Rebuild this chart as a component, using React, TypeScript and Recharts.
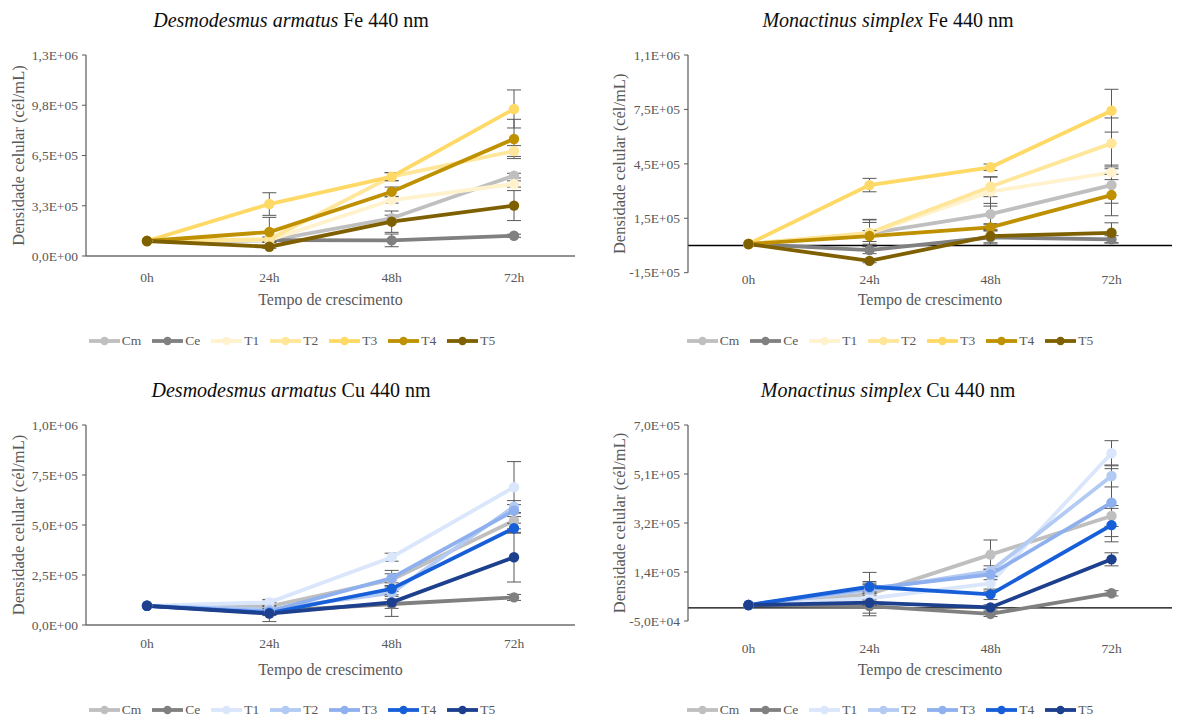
import React from 'react';
import { LineChart, Line, XAxis, YAxis, ErrorBar, ReferenceLine } from 'recharts';

const FONT = "'Liberation Serif', 'Times New Roman', serif";

const categories = ['0h', '24h', '48h', '72h'];
const seriesNames = ['Cm', 'Ce', 'T1', 'T2', 'T3', 'T4', 'T5'];
const feColors = ['#BFBFBF', '#808080', '#FFF2CC', '#FFE699', '#FFD966', '#BF9000', '#7F6000'];
const cuColors = ['#BFBFBF', '#808080', '#D9E6FB', '#B3CAF3', '#8FB0EE', '#175FD8', '#1C3F8E'];

// Desmodesmus armatus Fe 440 nm
const daFeCm = [97000, 100000, 244000, 520000];
const daFeCe = [97000, 103000, 101000, 131000];
const daFeT1 = [97000, 103000, 362000, 466000];
const daFeT2 = [97000, 108000, 513000, 679000];
const daFeT3 = [97000, 336000, 513000, 951000];
const daFeT4 = [97000, 155000, 416000, 757000];
const daFeT5 = [97000, 60000, 222000, 326000];
const daFeCmErr = [null, 10000, 20000, 15000];
const daFeCeErr = [null, 15000, 41000, 10000];
const daFeT1Err = [null, 10000, 20000, 20000];
const daFeT2Err = [null, 15000, 26000, 35000];
const daFeT3Err = [null, 73000, 26000, 123000];
const daFeT4Err = [null, 95000, 30000, 127000];
const daFeT5Err = [null, 10000, 69000, 97000];
const daFeTicks = [0, 325000, 650000, 975000, 1300000];
const daFeTickLabels = ['0,0E+00', '3,3E+05', '6,5E+05', '9,8E+05', '1,3E+06'];

// Monactinus simplex Fe 440 nm
const msFeCm = [8000, 67000, 173000, 333000];
const msFeCe = [8000, -25000, 45000, 34000];
const msFeT1 = [8000, 67000, 297000, 403000];
const msFeT2 = [8000, 70000, 324000, 563000];
const msFeT3 = [8000, 333000, 431000, 743000];
const msFeT4 = [8000, 52000, 100000, 278000];
const msFeT5 = [8000, -85000, 52000, 70000];
const msFeCmErr = [null, 74000, 59000, 100000];
const msFeCeErr = [null, 20000, 37000, 20000];
const msFeT1Err = [null, 60000, 80000, 40000];
const msFeT2Err = [null, 74000, 55000, 140000];
const msFeT3Err = [null, 37000, 18000, 118000];
const msFeT4Err = [null, 30000, 20000, 114000];
const msFeT5Err = [null, 10000, 37000, 55000];
const msFeTicks = [-150000, 150000, 450000, 750000, 1050000];
const msFeTickLabels = ['-1,5E+05', '1,5E+05', '4,5E+05', '7,5E+05', '1,1E+06'];

// Desmodesmus armatus Cu 440 nm
const daCuCm = [96000, 93000, 226000, 521000];
const daCuCe = [96000, 68000, 105000, 138000];
const daCuT1 = [96000, 113000, 339000, 689000];
const daCuT2 = [96000, 77000, 160000, 592000];
const daCuT3 = [96000, 68000, 235000, 572000];
const daCuT4 = [96000, 60000, 181000, 484000];
const daCuT5 = [96000, 57000, 113000, 339000];
const daCuCmErr = [null, 20000, 30000, 40000];
const daCuCeErr = [null, 51000, 62000, 15000];
const daCuT1Err = [null, 15000, 20000, 128000];
const daCuT2Err = [null, 15000, 30000, 30000];
const daCuT3Err = [null, 15000, 38000, 30000];
const daCuT4Err = [null, 10000, 30000, 25000];
const daCuT5Err = [null, 10000, 30000, 124000];
const daCuTicks = [0, 250000, 500000, 750000, 1000000];
const daCuTickLabels = ['0,0E+00', '2,5E+05', '5,0E+05', '7,5E+05', '1,0E+06'];

// Monactinus simplex Cu 440 nm
const msCuCm = [11000, 53000, 204000, 352000];
const msCuCe = [11000, 7000, -23000, 56000];
const msCuT1 = [11000, 37000, 94000, 592000];
const msCuT2 = [11000, 69000, 141000, 505000];
const msCuT3 = [11000, 75000, 128000, 403000];
const msCuT4 = [11000, 81000, 52000, 317000];
const msCuT5 = [11000, 20000, 2000, 186000];
const msCuCmErr = [null, 83000, 56000, 40000];
const msCuCeErr = [null, 27000, 10000, 10000];
const msCuT1Err = [null, 20000, 30000, 48000];
const msCuT2Err = [null, 20000, 20000, 42000];
const msCuT3Err = [null, 20000, 20000, 130000];
const msCuT4Err = [null, 20000, 20000, 64000];
const msCuT5Err = [null, 10000, 10000, 25000];
const msCuTicks = [-50000, 137500, 325000, 512500, 700000];
const msCuTickLabels = ['-5,0E+04', '1,4E+05', '3,2E+05', '5,1E+05', '7,0E+05'];

type Series = { name: string; color: string; values: number[]; errors: (number | null)[] };

function makeSeries(colors: string[], values: number[][], errors: (number | null)[][]): Series[] {
  return seriesNames.map((name, i) => ({ name, color: colors[i], values: values[i], errors: errors[i] }));
}

const panels = [
  {
    species: 'Desmodesmus armatus', rest: ' Fe 440 nm',
    series: makeSeries(feColors,
      [daFeCm, daFeCe, daFeT1, daFeT2, daFeT3, daFeT4, daFeT5],
      [daFeCmErr, daFeCeErr, daFeT1Err, daFeT2Err, daFeT3Err, daFeT4Err, daFeT5Err]),
    ticks: daFeTicks, labels: daFeTickLabels,
    left: 0, top: 0, width: 588, height: 310, mr: 13, mb: 4, yw: 86, xh: 50, pad: 61,
    zero: false, xtm: 16, xlo: 1, ylo: 18, titleX: 291, titleY: 20, legendX: 292, legendY: 341,
  },
  {
    species: 'Monactinus simplex', rest: ' Fe 440 nm',
    series: makeSeries(feColors,
      [msFeCm, msFeCe, msFeT1, msFeT2, msFeT3, msFeT4, msFeT5],
      [msFeCmErr, msFeCeErr, msFeT1Err, msFeT2Err, msFeT3Err, msFeT4Err, msFeT5Err]),
    ticks: msFeTicks, labels: msFeTickLabels,
    left: 590, top: 0, width: 587, height: 310, mr: 5, mb: 3.3, yw: 98, xh: 34, pad: 60.5,
    zero: true, xtm: 1.5, xlo: 1.7, ylo: 29, titleX: 888, titleY: 20, legendX: 890, legendY: 341,
  },
  {
    species: 'Desmodesmus armatus', rest: ' Cu 440 nm',
    series: makeSeries(cuColors,
      [daCuCm, daCuCe, daCuT1, daCuT2, daCuT3, daCuT4, daCuT5],
      [daCuCmErr, daCuCeErr, daCuT1Err, daCuT2Err, daCuT3Err, daCuT4Err, daCuT5Err]),
    ticks: daCuTicks, labels: daCuTickLabels,
    left: 0, top: 370, width: 588, height: 310, mr: 13, mb: 3, yw: 86, xh: 52, pad: 61,
    zero: false, xtm: 13, xlo: 2, ylo: 18, titleX: 291, titleY: 390, legendX: 292, legendY: 710,
  },
  {
    species: 'Monactinus simplex', rest: ' Cu 440 nm',
    series: makeSeries(cuColors,
      [msCuCm, msCuCe, msCuT1, msCuT2, msCuT3, msCuT4, msCuT5],
      [msCuCmErr, msCuCeErr, msCuT1Err, msCuT2Err, msCuT3Err, msCuT4Err, msCuT5Err]),
    ticks: msCuTicks, labels: msCuTickLabels,
    left: 590, top: 370, width: 587, height: 310, mr: 5, mb: 5, yw: 98, xh: 54, pad: 60.5,
    zero: true, xtm: 22.4, xlo: 0, ylo: 29, titleX: 888, titleY: 390, legendX: 890, legendY: 710,
  },
];

function Panel({ p }: { p: any }) {
  const data = categories.map((t, i) => {
    const row: any = { t };
    p.series.forEach((s: Series) => {
      row[s.name] = s.values[i];
      row[s.name + '_err'] = s.errors[i];
    });
    return row;
  });
  const fmt = (v: number) => {
    const idx = p.ticks.indexOf(v);
    return idx >= 0 ? p.labels[idx] : String(v);
  };
  return (
    <>
      <div
        style={{
          position: 'absolute', left: p.titleX - 250, width: 500, top: p.titleY - 12, height: 24,
          lineHeight: '24px', textAlign: 'center', fontFamily: FONT, fontSize: 20, color: '#0d0d0d',
          whiteSpace: 'nowrap',
        }}
      >
        <i>{p.species}</i>{p.rest}
      </div>
      <div style={{ position: 'absolute', left: p.left, top: p.top, fontFamily: FONT }}>
        <LineChart
          width={p.width}
          height={p.height}
          data={data}
          style={{ fontFamily: FONT }}
          margin={{ top: 55, right: p.mr, bottom: p.mb, left: 0 }}
        >
          <XAxis
            dataKey="t"
            height={p.xh}
            padding={{ left: p.pad, right: p.pad }}
            axisLine={p.zero ? false : { stroke: '#262626', strokeWidth: 1.2 }}
            tickLine={false}
            tickSize={0}
            tickMargin={p.xtm}
            interval={0}
            tick={{ fill: '#595959', fontSize: 13.5, fontFamily: FONT }}
            label={{
              value: 'Tempo de crescimento', position: 'insideBottom', offset: p.xlo,
              fill: '#595959', fontSize: 16, fontFamily: FONT,
            }}
          />
          <YAxis
            type="number"
            domain={[p.ticks[0], p.ticks[p.ticks.length - 1]]}
            ticks={p.ticks}
            interval={0}
            allowDataOverflow
            tickFormatter={fmt}
            width={p.yw}
            axisLine={{ stroke: '#595959', strokeWidth: 1.2 }}
            tickLine={{ stroke: '#595959' }}
            tickSize={4}
            tickMargin={4}
            tick={{ fill: '#595959', fontSize: 13.5, fontFamily: FONT }}
            label={{
              value: 'Densidade celular (cél/mL)', angle: -90, position: 'insideLeft', offset: p.ylo,
              fill: '#595959', fontSize: 16.5, fontFamily: FONT, style: { textAnchor: 'middle' },
            }}
          />
          {p.zero && <ReferenceLine y={0} stroke="#000000" strokeWidth={1.3} ifOverflow="extendDomain" />}
          {p.series.map((s: Series) => (
            <Line
              key={s.name}
              type="linear"
              dataKey={s.name}
              stroke={s.color}
              strokeWidth={3.8}
              dot={{ r: 5.2, fill: s.color, stroke: s.color, strokeWidth: 0 }}
              activeDot={false}
              isAnimationActive={false}
            >
              <ErrorBar dataKey={s.name + '_err'} width={7} strokeWidth={1} stroke="#595959" direction="y" />
            </Line>
          ))}
        </LineChart>
      </div>
      <div
        style={{
          position: 'absolute', left: p.legendX - 250, width: 500, top: p.legendY - 9, height: 18,
          display: 'flex', justifyContent: 'center', alignItems: 'center', gap: 11,
          fontFamily: FONT, fontSize: 13.5, color: '#595959',
        }}
      >
        {p.series.map((s: Series) => (
          <div key={s.name} style={{ display: 'flex', alignItems: 'center' }}>
            <svg width={31} height={10} style={{ display: 'block' }}>
              <line x1={0} y1={5} x2={31} y2={5} stroke={s.color} strokeWidth={3.8} />
              <circle cx={15.5} cy={5} r={4.2} fill={s.color} />
            </svg>
            <span style={{ marginLeft: 2 }}>{s.name}</span>
          </div>
        ))}
      </div>
    </>
  );
}

export default function App() {
  return (
    <div
      style={{
        position: 'absolute', left: 0, top: 0, width: 1177, height: 723,
        background: '#ffffff', overflow: 'hidden', fontFamily: FONT,
      }}
    >
      {panels.map((p, i) => (
        <Panel key={i} p={p} />
      ))}
    </div>
  );
}
